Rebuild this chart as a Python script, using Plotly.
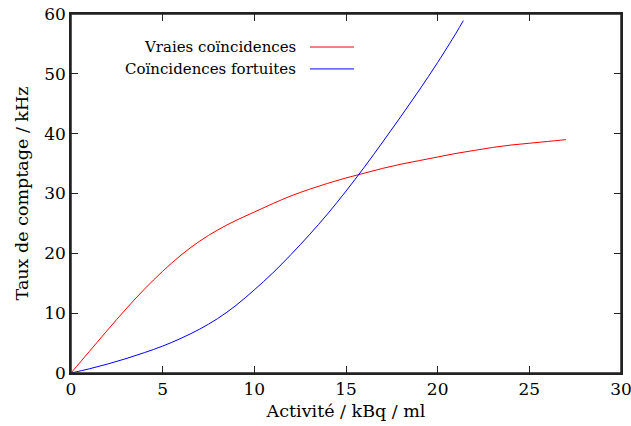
import plotly.graph_objects as go

# ── Données ───────────────────────────────────────────────────────────────────
activite_vraies = [0, 1, 2, 3, 4, 5, 6, 7, 8, 9, 10, 11, 12, 13, 14, 15, 16,
                   17, 18, 19, 20, 21, 22, 23, 24, 25, 26, 27]
taux_vraies = [0, 3.6, 7.2, 10.7, 14.0, 17.0, 19.7, 22.0, 23.9, 25.5, 26.9,
               28.3, 29.6, 30.7, 31.7, 32.6, 33.4, 34.2, 34.9, 35.5, 36.1,
               36.7, 37.2, 37.7, 38.1, 38.4, 38.7, 39.0]

activite_fortuites = [0, 1, 2, 3, 4, 5, 6, 7, 8, 9, 10, 11, 12, 13, 14, 15,
                      16, 17, 18, 19, 20, 21, 21.4]
taux_fortuites = [0, 0.7, 1.5, 2.4, 3.4, 4.5, 5.8, 7.3, 9.1, 11.3, 13.9, 16.7,
                  19.8, 23.1, 26.6, 30.4, 34.4, 38.6, 42.9, 47.3, 51.9, 56.8,
                  58.9]

x_ticks = [0, 5, 10, 15, 20, 25, 30]
y_ticks = [0, 10, 20, 30, 40, 50, 60]

legend_labels = ["Vraies coïncidences", "Coïncidences fortuites"]
colors = {"vraies": "#ff0000", "fortuites": "#0000ff"}

FONT = "DejaVu Serif, Liberation Serif, serif"

fig = go.Figure()

fig.add_trace(go.Scatter(
    x=activite_vraies, y=taux_vraies, mode="lines",
    line=dict(color=colors["vraies"], width=1, shape="spline"),
    name=legend_labels[0], showlegend=False,
))
fig.add_trace(go.Scatter(
    x=activite_fortuites, y=taux_fortuites, mode="lines",
    line=dict(color=colors["fortuites"], width=1, shape="spline"),
    name=legend_labels[1], showlegend=False,
))

# Légende façon gnuplot : texte aligné à droite, échantillon de ligne à droite
legend_rows = [(0.908, colors["vraies"]), (0.847, colors["fortuites"])]
for label, (ly, col) in zip(legend_labels, legend_rows):
    fig.add_annotation(
        x=0.413, y=ly, xref="paper", yref="paper", text=label,
        showarrow=False, xanchor="right", yanchor="middle",
        font=dict(family=FONT, size=15, color="black"),
    )
    fig.add_shape(
        type="line", xref="paper", yref="paper",
        x0=0.4345, x1=0.5145, y0=ly, y1=ly,
        line=dict(color=col, width=1),
    )

# cadre complet autour de la zone de tracé
fig.add_shape(
    type="rect", xref="paper", yref="paper", x0=0, y0=0, x1=1, y1=1,
    line=dict(color="#222222", width=1.5), layer="above",
)

tick_style = dict(
    showgrid=False, zeroline=False,
    ticks="inside", ticklen=7, tickwidth=1.3, tickcolor="#222222",
)
axis_common = dict(
    showline=True, linecolor="#222222", linewidth=1.5,
    mirror="allticks", ticklabeloverflow="allow",
    tickfont=dict(family=FONT, size=17, color="black"),
    title_font=dict(family=FONT, size=17.5, color="black"),
    **tick_style,
)

fig.update_layout(
    width=631, height=426,
    margin=dict(l=71, r=10, t=14, b=53, autoexpand=False),
    paper_bgcolor="white", plot_bgcolor="white",
    font=dict(family=FONT, color="black"),
    xaxis=dict(range=[0, 30], tickvals=x_ticks,
               title=dict(text="Activité / kBq / ml", standoff=7),
               **axis_common),
    yaxis=dict(range=[0, 60], tickvals=y_ticks,
               title=dict(text="Taux de comptage / kHz", standoff=11),
               **axis_common),
)

# supprime la marge par défaut du <body> pour que la figure remplisse la fenêtre
fig.write_html(
    "out.html",
    config={"displayModeBar": False},
    post_script="document.body.style.margin='0';",
)
